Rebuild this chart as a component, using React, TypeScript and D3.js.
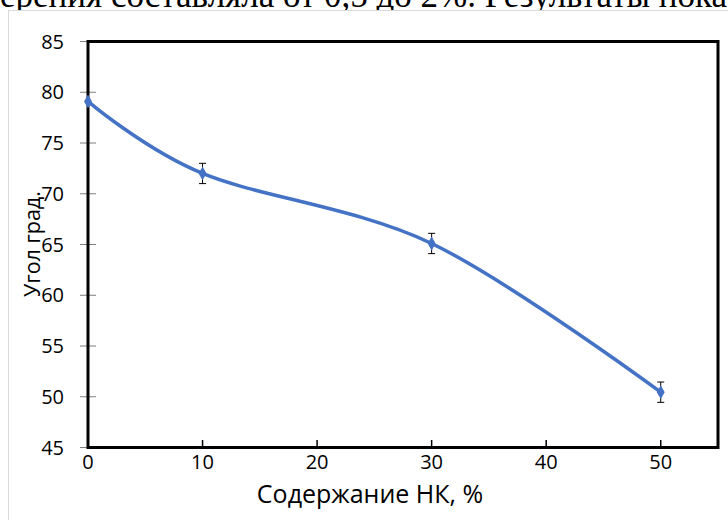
import React from "react";
import * as d3 from "d3";

const xValues = [0, 10, 30, 50];
const yValues = [79.1, 72, 65.1, 50.45];
const errValues = [0, 1.0, 1.0, 1.0];
const xTicks = [0, 10, 20, 30, 40, 50];
const yTicks = [45, 50, 55, 60, 65, 70, 75, 80, 85];
const xTitle = "Содержание НК, %";
const yTitle = "Угол град.";
const topText = "ерения составляла от 0,5 до 2%. Результаты пока";

const W = 728;
const H = 520;
const FONT = "'Open Sans', 'Noto Sans', sans-serif";

export default function App() {
  const x = d3.scaleLinear().domain([0, 55]).range([88, 718]);
  const y = d3.scaleLinear().domain([45, 85]).range([447.5, 41.5]);
  const pts = xValues.map((v, i) => [x(v), y(yValues[i])] as [number, number]);
  const line = d3.line().curve(d3.curveCatmullRom.alpha(0))(pts) || "";
  const diamond = d3.symbol().type(d3.symbolDiamond).size(55)() || "";

  return (
    <div style={{ position: "fixed", left: 0, top: 0, width: W, height: H, background: "#fff" }}>
      <svg width={W} height={H} style={{ display: "block" }}>
        <rect x={0} y={0} width={W} height={H} fill="#fff" />
        <text x={0} y={7} fontFamily="'Liberation Serif', 'Times New Roman', serif" fontSize={35} fill="#000">
          {topText}
        </text>
        <rect x={8.5} y={10.5} width={W + 10} height={H} fill="#fff" stroke="#d9d9d9" strokeWidth={1} />
        {yTicks.map((t) => (
          <line key={"yt" + t} x1={80} x2={96} y1={y(t)} y2={y(t)} stroke="#7f7f7f" strokeWidth={1} />
        ))}
        {xTicks.filter((t) => t > 0).map((t) => (
          <line key={"xt" + t} x1={x(t)} x2={x(t)} y1={447.5} y2={440} stroke="#000" strokeWidth={1.5} />
        ))}
        <rect x={88} y={41.5} width={630} height={406} fill="none" stroke="#000" strokeWidth={3} />
        {yTicks.map((t) => (
          <text key={"yl" + t} x={64} y={y(t)} dy="0.36em" textAnchor="end" fontFamily={FONT} fontSize={20} fill="#000">
            {t}
          </text>
        ))}
        {xTicks.map((t) => (
          <text key={"xl" + t} x={x(t)} y={469} textAnchor="middle" fontFamily={FONT} fontSize={20} fill="#000">
            {t}
          </text>
        ))}
        <text x={370} y={503} textAnchor="middle" fontFamily={FONT} fontSize={25} fill="#000">
          {xTitle}
        </text>
        <text
          transform={`translate(40,244) rotate(-90)`}
          textAnchor="middle"
          fontFamily={FONT}
          fontSize={21.5}
          fill="#000"
        >
          {yTitle}
        </text>
        <path d={line} fill="none" stroke="#4472C4" strokeWidth={3.5} strokeLinecap="round" />
        {xValues.map((v, i) =>
          errValues[i] > 0 ? (
            <g key={"eb" + v} stroke="#000" strokeWidth={1}>
              <line x1={x(v)} x2={x(v)} y1={y(yValues[i] - errValues[i])} y2={y(yValues[i] + errValues[i])} />
              <line x1={x(v) - 3.5} x2={x(v) + 3.5} y1={y(yValues[i] - errValues[i])} y2={y(yValues[i] - errValues[i])} />
              <line x1={x(v) - 3.5} x2={x(v) + 3.5} y1={y(yValues[i] + errValues[i])} y2={y(yValues[i] + errValues[i])} />
            </g>
          ) : null
        )}
        {pts.map((p, i) => (
          <path key={"m" + i} d={diamond} transform={`translate(${p[0]},${p[1]})`} fill="#4472C4" />
        ))}
      </svg>
    </div>
  );
}
